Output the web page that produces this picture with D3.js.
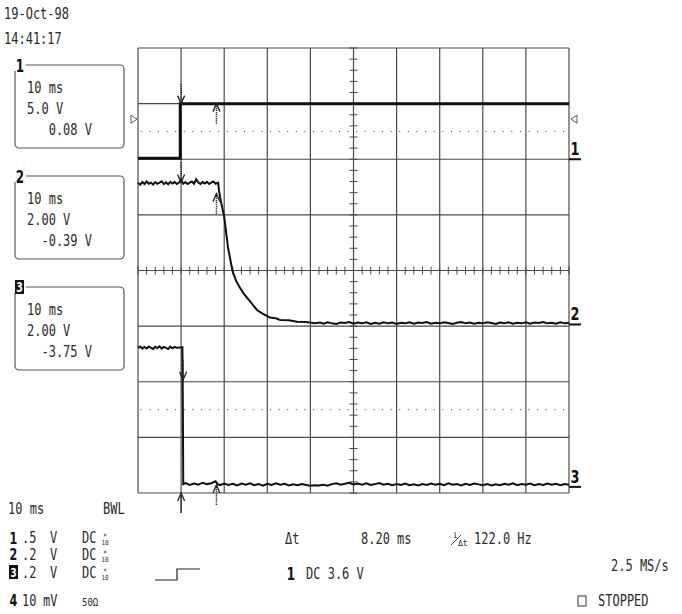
<!DOCTYPE html>
<html>
<head>
<meta charset="utf-8">
<script src="https://cdn.jsdelivr.net/npm/d3@7"></script>
<style>
  body { margin: 0; background: #fff; }
  text { font-family: "DejaVu Sans Mono", monospace; fill: #2a2a2a; }
</style>
</head>
<body>
<svg id="scope" width="682" height="614"></svg>
<script>
// time in ms (trigger at 0), traces in volts
const timeDomain = [-10, 90];
const divisions = 8;

const ch1Trace = [[-10, 0.08], [-0.2, 0.08], [-0.2, 5.0], [90, 5.0]];

const ch2Trace = [
  [-10, 5.1], [-9.5, 5.02], [-9, 5.12], [-8.5, 5.05], [-8, 5.14], [-7.5, 5.06], [-7, 5.1], [-6.5, 5.03],
  [-6, 5.12], [-5.5, 5.06], [-5, 5.1], [-4.5, 5.15], [-4, 5.05], [-3.5, 5.11], [-3, 5.04], [-2.5, 5.13],
  [-2, 5.07], [-1.5, 5.12], [-1, 5.05], [-0.5, 5.1], [0, 5.2], [0.5, 5.06], [1, 5.12], [1.5, 5.05],
  [2, 5.1], [2.5, 5.14], [3, 5.06], [3.5, 5.22], [4, 5.1], [4.5, 5.05], [5, 5.12], [5.5, 5.07],
  [6, 5.13], [6.5, 5.05], [7, 5.1], [7.5, 5.14], [8, 5.06], [8.6, 5.1], [8.8, 4.8], [9.2, 4.45],
  [10.0, 3.88], [10.9, 2.75], [11.9, 1.94], [12.8, 1.55], [13.7, 1.31], [14.5, 1.12], [16.0, 0.83],
  [17.6, 0.52], [19, 0.38], [20.6, 0.25], [22, 0.22], [23, 0.16], [25, 0.15], [26.9, 0.1],
  [29, 0.09], [31, 0.04], [32.3, 0.07], [33, 0.03], [34, 0.08], [35, 0.04], [36, 0.02], [37, 0.07],
  [38, 0.05], [39, 0.09], [40, 0.03], [41, 0.07], [42, 0.04], [43, 0.08], [44, 0.02], [45, 0.06],
  [46, 0.03], [47, 0.08], [48, 0.04], [49, 0.07], [50, 0.02], [51, 0.06], [52, 0.04], [53, 0.08],
  [54, 0.03], [55, 0.07], [56, 0.05], [57, 0.09], [58, 0.03], [59, 0.06], [60, 0.04], [61, 0.08],
  [62, 0.05], [63, 0.02], [64, 0.06], [65, 0.09], [66, 0.04], [67, 0.07], [68, 0.03], [69, 0.06],
  [70, 0.04], [71, 0.08], [72, 0.05], [73, 0.02], [74, 0.07], [75, 0.04], [76, 0.08], [77, 0.03],
  [78, 0.06], [79, 0.04], [80, 0.08], [81, 0.03], [82, 0.07], [83, 0.05], [84, 0.09], [85, 0.04],
  [86, 0.06], [87, 0.03], [88, 0.08], [89, 0.04], [90, 0.06]
];

const ch3Trace = [
  [-10, 5.0], [-9.5, 5.05], [-9, 4.97], [-8.5, 5.03], [-8, 4.98], [-7.5, 5.05], [-7, 5.0], [-6.5, 4.96],
  [-6, 5.04], [-5.5, 4.99], [-5, 5.05], [-4.5, 4.97], [-4, 5.03], [-3.5, 5.0], [-3, 4.96], [-2.5, 5.04],
  [-2, 4.98], [-1.5, 5.03], [-1, 5.0], [0.3, 5.02], [0.4, 3.0], [0.5, 0.1], [1, 0.14], [2, 0.07],
  [3, 0.12], [4, 0.08], [5, 0.15], [6, 0.1], [7, 0.13], [8, 0.2], [8.5, 0.1], [9, 0.06], [10, 0.12],
  [11, 0.07], [12, 0.11], [13, 0.05], [14, 0.12], [15, 0.08], [16, 0.13], [17, 0.06], [18, 0.1],
  [19, 0.04], [20, 0.11], [21, 0.07], [22, 0.13], [23, 0.08], [24, 0.11], [25, 0.05], [26, 0.09],
  [27, 0.06], [28, 0.1], [29, 0.07], [30, 0.04], [31, 0.06], [32, 0.05], [33, 0.08], [34, 0.04],
  [35, 0.1], [36, 0.13], [37, 0.08], [38, 0.11], [39, 0.15], [40, 0.09], [41, 0.12], [42, 0.08],
  [43, 0.13], [44, 0.07], [45, 0.1], [46, 0.14], [47, 0.08], [48, 0.11], [49, 0.06], [50, 0.1],
  [51, 0.07], [52, 0.12], [53, 0.06], [54, 0.09], [55, 0.05], [56, 0.1], [57, 0.07], [58, 0.12],
  [59, 0.08], [60, 0.11], [61, 0.06], [62, 0.13], [63, 0.08], [64, 0.1], [65, 0.05], [66, 0.11],
  [67, 0.07], [68, 0.12], [69, 0.09], [70, 0.06], [71, 0.1], [72, 0.05], [73, 0.09], [74, 0.06],
  [75, 0.11], [76, 0.08], [77, 0.13], [78, 0.06], [79, 0.1], [80, 0.08], [81, 0.12], [82, 0.06],
  [83, 0.1], [84, 0.07], [85, 0.12], [86, 0.08], [87, 0.11], [88, 0.06], [89, 0.1], [90, 0.08]
];

const channelIds = [1, 2, 3];
const voltsPerDiv = [5, 2, 2];
const groundDiv = [6, 3.03, 0.11];
const boxLines = [["10 ms", "5.0 V", "0.08 V"], ["10 ms", "2.00 V", "-0.39 V"], ["10 ms", "2.00 V", "-3.75 V"]];

const cursorTimes = [0, 8.2];
const cursorVolts = [[5.0, 5.1, 3.85], [5.0, 4.7, 0.07]];
const triggerLevel = 3.6;      // on channel 1
const dottedDivs = [6.5, 1.5];

const setupRows = [
  ["1", ".5", "V", "DC", true],
  ["2", ".2", "V", "DC", true],
  ["3", ".2", "V", "DC", true],
  ["4", "10", "mV", "50Ω", false]
];

const svg = d3.select('#scope');
const x = d3.scaleLinear().domain(timeDomain).range([138, 569]);
const yDiv = d3.scaleLinear().domain([0, divisions]).range([493, 48]);
const yCh = (i, v) => yDiv(groundDiv[i] + v / voltsPerDiv[i]);

const gridColor = '#4a4a4a';
const txt = (g, s, px, py, size, opt = {}) => g.append('text')
  .attr('transform', `translate(${px},${py}) scale(${opt.sx || 1},${opt.sy || 1.35})`)
  .attr('font-size', size)
  .attr('text-anchor', opt.anchor || 'start')
  .attr('font-weight', opt.bold ? 'bold' : 'normal')
  .style('font-family', opt.family || null)
  .style('fill', opt.fill || null)
  .text(s);
const digit = (g, s, px, py, opt = {}) => txt(g, s, px, py, opt.size || 15,
  { anchor: 'middle', bold: true, sx: 0.8, sy: opt.sy || 1.12, family: 'DejaVu Sans', fill: opt.fill || '#111' });

// header
txt(svg, '19-Oct-98', 4, 19, 12);
txt(svg, '14:41:17', 4, 44, 12);

// grid
const grid = svg.append('g');
const xTicks = d3.range(0, 11).map(i => timeDomain[0] + i * 10);
grid.selectAll('.vline').data(xTicks).join('line').attr('class', 'vline')
  .attr('x1', d => x(d)).attr('x2', d => x(d))
  .attr('y1', yDiv(0)).attr('y2', yDiv(divisions))
  .attr('stroke', gridColor).attr('stroke-width', 1.2);
grid.selectAll('.hline').data(d3.range(0, divisions + 1)).join('line').attr('class', 'hline')
  .attr('x1', x(timeDomain[0])).attr('x2', x(timeDomain[1]))
  .attr('y1', d => yDiv(d)).attr('y2', d => yDiv(d))
  .attr('stroke', gridColor).attr('stroke-width', 1.2);

// minor ticks on centre axes
const xc = x(40), yc = yDiv(4);
grid.selectAll('.xminor').data(d3.range(-10, 90.01, 2)).join('line').attr('class', 'xminor')
  .attr('x1', d => x(d)).attr('x2', d => x(d))
  .attr('y1', yc - 4).attr('y2', yc + 4)
  .attr('stroke', gridColor).attr('stroke-width', 1);
grid.selectAll('.yminor').data(d3.range(0, 8.01, 0.2)).join('line').attr('class', 'yminor')
  .attr('x1', xc - 4).attr('x2', xc + 4)
  .attr('y1', d => yDiv(d)).attr('y2', d => yDiv(d))
  .attr('stroke', gridColor).attr('stroke-width', 1);

// dotted level lines
dottedDivs.forEach(dv => {
  grid.selectAll(null).data(d3.range(-9.4, 89, 2)).join('rect')
    .attr('x', d => x(d)).attr('y', yDiv(dv) - 0.5)
    .attr('width', 1.1).attr('height', 1.1).attr('fill', '#555');
});

// trigger level markers
const ty = yCh(0, triggerLevel);
svg.append('path').attr('d', `M131 ${ty - 4} L137 ${ty} L131 ${ty + 4} Z`)
  .attr('fill', 'none').attr('stroke', '#444').attr('stroke-width', 0.9);
svg.append('path').attr('d', `M577 ${ty - 4} L571 ${ty} L577 ${ty + 4} Z`)
  .attr('fill', 'none').attr('stroke', '#444').attr('stroke-width', 0.9);

// traces
const traces = [ch1Trace, ch2Trace, ch3Trace];
const widths = [3, 2, 2];
traces.forEach((tr, i) => {
  const line = d3.line().x(d => x(d[0])).y(d => yCh(i, d[1]));
  svg.append('path').datum(tr).attr('d', line)
    .attr('fill', 'none').attr('stroke', '#111')
    .attr('stroke-width', widths[i]).attr('stroke-linejoin', 'miter');
});

// ground markers at right
channelIds.forEach((id, i) => {
  const gy = yCh(i, 0);
  svg.append('line').attr('x1', 569).attr('x2', 581).attr('y1', gy).attr('y2', gy)
    .attr('stroke', '#111').attr('stroke-width', 2);
  digit(svg, String(id), 575, gy - 4, { size: 16 });
});

// cursor arrows
const arrow = (px, tipY, dir, dashed) => {
  const len = 20;
  const y0 = tipY - dir * len;
  svg.append('line').attr('x1', px).attr('x2', px).attr('y1', y0).attr('y2', tipY)
    .attr('stroke', '#222').attr('stroke-width', 1.5)
    .attr('stroke-dasharray', dashed ? '1.2,0.9' : null);
  svg.append('path')
    .attr('d', `M${px - 3.5} ${tipY - dir * 8} L${px} ${tipY} L${px + 3.5} ${tipY - dir * 8}`)
    .attr('fill', 'none').attr('stroke', '#222').attr('stroke-width', 1.3);
};
cursorTimes.forEach((t, c) => {
  channelIds.forEach((id, i) => {
    const tipY = yCh(i, cursorVolts[c][i]);
    arrow(x(t) + (i === 2 && c === 0 ? 2 : 0), tipY, c === 0 ? 1 : -1, true);
  });
});
// trigger position arrow below grid
arrow(x(0), yDiv(0), -1, false);

// channel boxes on the left
const boxTop = [65, 176, 287];
channelIds.forEach((id, i) => {
  const g = svg.append('g');
  const top = boxTop[i];
  g.append('rect').attr('x', 15).attr('y', top).attr('width', 109).attr('height', 83)
    .attr('rx', 4).attr('fill', 'none').attr('stroke', '#555').attr('stroke-width', 1.2);
  g.append('rect').attr('x', 14).attr('y', top - 8).attr('width', 12).attr('height', 14).attr('fill', '#fff');
  if (id === 3) {
    g.append('rect').attr('x', 15).attr('y', top - 7).attr('width', 9).attr('height', 14).attr('fill', '#111');
    digit(g, '3', 19.5, top + 5, { size: 12, fill: '#fff' });
  } else {
    digit(g, String(id), 20, top + 7);
  }
  txt(g, boxLines[i][0], 27, top + 28, 12);
  txt(g, boxLines[i][1], 27, top + 49, 12);
  txt(g, boxLines[i][2], 92, top + 70, 12, { anchor: 'end' });
});

// bottom status area
const bot = svg.append('g');
txt(bot, '10 ms', 8, 514, 12);
txt(bot, 'BWL', 103, 514, 12);
const rowY = [543, 560, 578, 606];
setupRows.forEach((r, i) => {
  const ry = rowY[i];
  if (i === 2) {
    bot.append('rect').attr('x', 9).attr('y', ry - 13).attr('width', 9).attr('height', 14).attr('fill', '#111');
    digit(bot, r[0], 13.5, ry - 1, { size: 11, sy: 1.15, fill: '#fff' });
  } else {
    digit(bot, r[0], 13.5, i === 0 ? ry + 1 : ry, { size: 14, sy: 1.08 });
  }
  txt(bot, r[1], 22, ry, 12, { sy: 1.3 });
  txt(bot, r[2], r[4] ? 50 : 43, ry, 12, { sy: 1.3 });
  if (r[4]) {
    txt(bot, r[3], 82, ry, 12, { sy: 1.3 });
    txt(bot, '×', 105, ry - 6, 6, { anchor: 'middle', sy: 1.1 });
    txt(bot, '10', 105, ry + 2, 6, { anchor: 'middle', sy: 1.1 });
  } else {
    txt(bot, r[3], 82, ry, 9, { sy: 1.2 });
  }
});

// measurement readout
txt(bot, 'Δt', 285, 544, 12);
txt(bot, '8.20 ms', 361, 544, 12);
txt(bot, '1', 455, 538, 7, { anchor: 'middle', sy: 1.1 });
bot.append('line').attr('x1', 451).attr('x2', 461).attr('y1', 545).attr('y2', 535).attr('stroke', '#333').attr('stroke-width', 0.9);
txt(bot, 'Δt', 458, 546, 8, { sy: 1.1 });
txt(bot, '122.0 Hz', 474, 544, 12);
txt(bot, '2.5 MS/s', 611, 571, 12);

// trigger setup
bot.append('path').attr('d', 'M155 580 H177 V569 H200')
  .attr('fill', 'none').attr('stroke', '#222').attr('stroke-width', 1.2);
digit(bot, '1', 291, 580);
txt(bot, 'DC 3.6 V', 306, 579, 12);

// status
bot.append('rect').attr('x', 578).attr('y', 596).attr('width', 8).attr('height', 10)
  .attr('fill', 'none').attr('stroke', '#333').attr('stroke-width', 1);
txt(bot, 'STOPPED', 598, 606, 12);
</script>
</body>
</html>
